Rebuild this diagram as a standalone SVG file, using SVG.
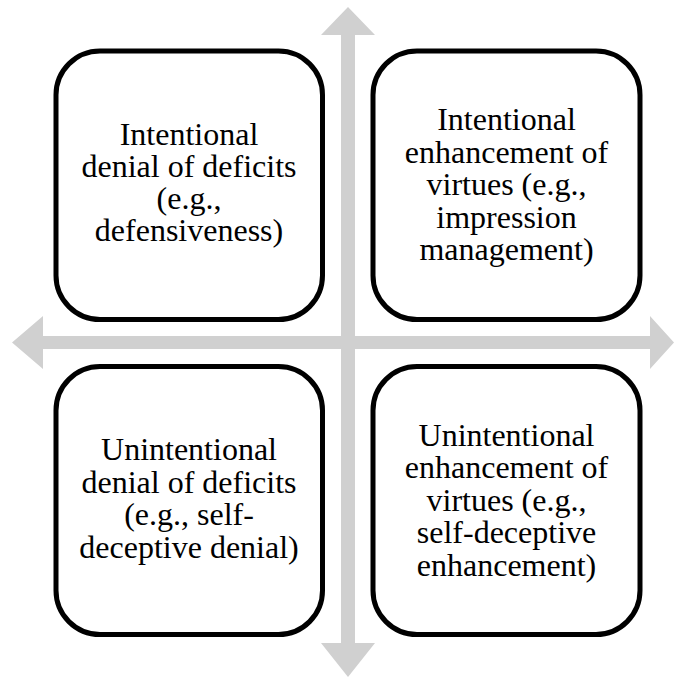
<svg xmlns="http://www.w3.org/2000/svg" width="674" height="678" viewBox="0 0 674 678">
<style>
.box{fill:#ffffff;stroke:#000000;stroke-width:5}
.arrow{fill:#d0d0d0;stroke:none}
.t{font-family:"Liberation Serif","Times New Roman",serif;font-size:32px;fill:#000000;text-anchor:middle}
</style>
<rect width="674" height="678" fill="#ffffff"/>
<g id="connectors">
<polygon class="arrow" points="348,7 375,35 355,35 355,643 375,643 348,677 321,643 341,643 341,35 321,35"/>
<polygon class="arrow" points="12,342.5 43,316 43,336 650,336 650,316 674,342.5 650,369 650,349 43,349 43,369"/>
</g>
<g id="node-tl">
<rect class="box" x="56" y="51" width="266.5" height="268.5" rx="44" ry="44"/>
<text class="t"><tspan x="189" y="145">Intentional</tspan><tspan x="189" y="177">denial of deficits</tspan><tspan x="189" y="209">(e.g.,</tspan><tspan x="189" y="241">defensiveness)</tspan></text>
</g>
<g id="node-tr">
<rect class="box" x="373" y="51" width="267" height="268.5" rx="44" ry="44"/>
<text class="t"><tspan x="506.5" y="130">Intentional</tspan><tspan x="506.5" y="162.5">enhancement of</tspan><tspan x="506.5" y="195">virtues (e.g.,</tspan><tspan x="506.5" y="227.5">impression</tspan><tspan x="506.5" y="260">management)</tspan></text>
</g>
<g id="node-bl">
<rect class="box" x="56" y="366.5" width="266.5" height="268" rx="44" ry="44"/>
<text class="t"><tspan x="189" y="460">Unintentional</tspan><tspan x="189" y="492.5">denial of deficits</tspan><tspan x="189" y="525">(e.g., self-</tspan><tspan x="189" y="557.5">deceptive denial)</tspan></text>
</g>
<g id="node-br">
<rect class="box" x="373" y="366.5" width="267" height="268" rx="44" ry="44"/>
<text class="t"><tspan x="506.5" y="445.5">Unintentional</tspan><tspan x="506.5" y="478">enhancement of</tspan><tspan x="506.5" y="510.5">virtues (e.g.,</tspan><tspan x="506.5" y="543">self-deceptive</tspan><tspan x="506.5" y="575.5">enhancement)</tspan></text>
</g>
</svg>
